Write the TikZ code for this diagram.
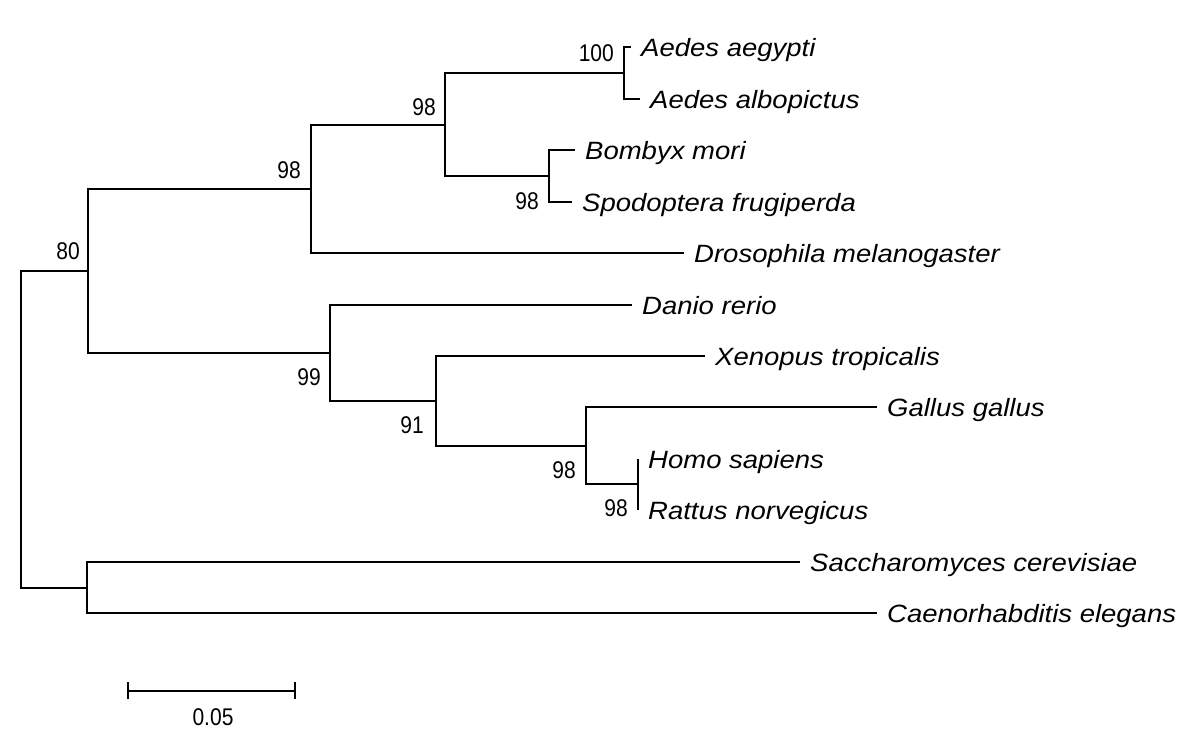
\documentclass[tikz,border=0pt]{standalone}
\usepackage{fontspec}
\setmainfont{Liberation Sans}
\newcommand{\tx}[1]{\scalebox{1.1}[1]{\itshape #1}}
\newcommand{\bv}[1]{\scalebox{1}[1.15]{#1}}
\begin{document}
\begin{tikzpicture}[x=1pt,y=-1pt,
  br/.style={line width=2pt},
  taxon/.style={anchor=west, inner xsep=10pt, inner ysep=0pt, text height=18pt, text depth=0pt, font=\fontsize{25}{30}\selectfont},
  bs/.style={anchor=east, inner sep=0pt, font=\fontsize{21}{24}\selectfont}]
\useasboundingbox[fill=white] (0,0) rectangle (1200,737);
% internal nodes
\coordinate (root) at (21,429);
\coordinate (n80) at (88,271);
\coordinate (sc) at (87,588);
\coordinate (nB) at (311,189);
\coordinate (n99) at (330,353);
\coordinate (nA) at (445,125);
\coordinate (aed) at (624,73);
\coordinate (bom) at (549,176);
\coordinate (n91) at (436,401);
\coordinate (gal) at (586,446);
\coordinate (mam) at (638,484);
% leaves
\node[taxon] (aeg) at (631,47) {\tx{Aedes aegypti}};
\node[taxon] (alb) at (640,99) {\tx{Aedes albopictus}};
\node[taxon] (bmo) at (575,150) {\tx{Bombyx mori}};
\node[taxon] (spo) at (572,202) {\tx{Spodoptera frugiperda}};
\node[taxon] (dro) at (684,253) {\tx{Drosophila melanogaster}};
\node[taxon] (dan) at (632,305) {\tx{Danio rerio}};
\node[taxon] (xen) at (705,356) {\tx{Xenopus tropicalis}};
\node[taxon] (gga) at (877,407) {\tx{Gallus gallus}};
\node[taxon] (hom) at (638,459) {\tx{Homo sapiens}};
\node[taxon] (rat) at (638,510) {\tx{Rattus norvegicus}};
\node[taxon] (sac) at (800,562) {\tx{Saccharomyces cerevisiae}};
\node[taxon] (cae) at (877,613) {\tx{Caenorhabditis elegans}};
% branches
\draw[br] (root) |- (n80);
\draw[br] (root) |- (sc);
\draw[br] (n80) |- (nB);
\draw[br] (n80) |- (n99);
\draw[br] (nB) |- (nA);
\draw[br] (nB) |- (dro.west);
\draw[br] (nA) |- (aed);
\draw[br] (nA) |- (bom);
\draw[br] (aed) |- (aeg.west);
\draw[br] (aed) |- (alb.west);
\draw[br] (bom) |- (bmo.west);
\draw[br] (bom) |- (spo.west);
\draw[br] (n99) |- (dan.west);
\draw[br] (n99) |- (n91);
\draw[br] (n91) |- (xen.west);
\draw[br] (n91) |- (gal);
\draw[br] (gal) |- (gga.west);
\draw[br] (gal) |- (mam);
\draw[br] (mam) |- (hom.west);
\draw[br] (mam) |- (rat.west);
\draw[br] (sc) |- (sac.west);
\draw[br] (sc) |- (cae.west);
% bootstrap values
\node[bs] (b80) at (80,251) {\bv{80}};
\node[bs] (bB) at (301,170) {\bv{98}};
\node[bs] (bA) at (436,107) {\bv{98}};
\node[bs] (b100) at (614,53) {\bv{100}};
\node[bs] (bbom) at (539,201) {\bv{98}};
\node[bs] (b99) at (321,377) {\bv{99}};
\node[bs] (b91) at (424,425) {\bv{91}};
\node[bs] (bgal) at (576,470) {\bv{98}};
\node[bs] (bmam) at (628,508) {\bv{98}};
% scale bar
\coordinate (s1) at (128,691);
\coordinate (s2) at (295,691);
\draw[br] (s1) -- (s2);
\draw[br] ([yshift=-8pt]s1) -- ([yshift=9pt]s1);
\draw[br] ([yshift=-8pt]s2) -- ([yshift=9pt]s2);
\node[inner sep=0pt, font=\fontsize{21}{24}\selectfont] (slab) at (213,717) {\bv{0.05}};
\end{tikzpicture}
\end{document}
